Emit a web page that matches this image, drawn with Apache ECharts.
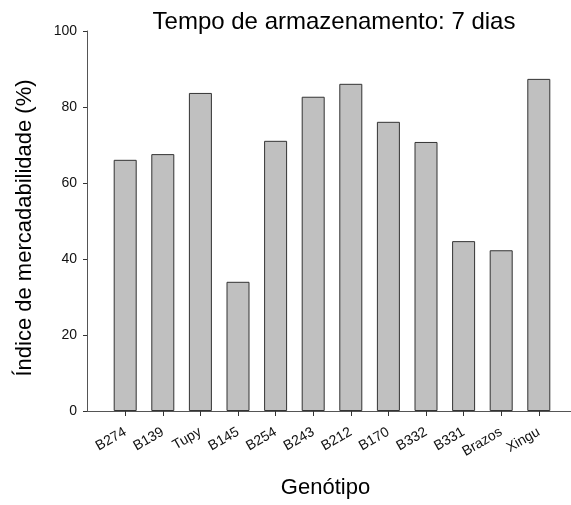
<!DOCTYPE html>
<html>
<head>
<meta charset="utf-8">
<script src="https://cdn.jsdelivr.net/npm/echarts@6/dist/echarts.min.js"></script>
<style>
html,body{margin:0;padding:0;background:#fff;}
#chart{width:571px;height:505px;}
</style>
</head>
<body>
<div id="chart"></div>
<script>
const categories = ['B274','B139','Tupy','B145','B254','B243','B212','B170','B332','B331','Brazos','Xingu'];
const values = [66.1, 67.6, 83.7, 34.0, 71.1, 82.7, 86.1, 76.1, 70.8, 44.7, 42.3, 87.4];
const yTicks = [0, 20, 40, 60, 80, 100];

const FONT = '"Liberation Sans", Arial, sans-serif';
const chart = echarts.init(document.getElementById('chart'), null, {renderer: 'canvas'});
chart.setOption({
  animation: false,
  backgroundColor: '#ffffff',
  title: {
    text: 'Tempo de armazenamento: 7 dias',
    left: 329, top: 5, textAlign: 'center',
    textStyle: {fontFamily: FONT, fontSize: 24, fontWeight: 'normal', color: '#000'}
  },
  grid: [
    {left: 106.4, right: 13.4, top: 31, bottom: 94, containLabel: false},
    {left: 87, right: 0, top: 31, bottom: 94, containLabel: false}
  ],
  xAxis: [
    {
      type: 'category', gridIndex: 0, data: categories, boundaryGap: true,
      axisLine: {show: false},
      axisTick: {show: true, alignWithLabel: true, length: 5, lineStyle: {color: '#333', width: 1}},
      axisLabel: {rotate: 30, margin: 20, fontFamily: FONT, fontSize: 14, color: '#111', interval: 0}
    },
    {
      type: 'value', gridIndex: 1, min: 0, max: 1,
      axisLine: {show: true, lineStyle: {color: '#555', width: 1}},
      axisTick: {show: false}, axisLabel: {show: false}, splitLine: {show: false},
      name: 'Genótipo', nameLocation: 'middle', nameGap: 66,
      nameTextStyle: {fontFamily: FONT, fontSize: 22, color: '#000', padding: [0, 7, 0, 0]}
    }
  ],
  yAxis: [
    {
      type: 'value', gridIndex: 0, min: 0, max: 100, interval: 20,
      show: false, splitLine: {show: false}
    },
    {
      type: 'value', gridIndex: 1, min: 0, max: 100, interval: 20,
      axisLine: {show: true, lineStyle: {color: '#555', width: 1}},
      axisTick: {show: true, inside: false, length: 4, lineStyle: {color: '#333'}},
      axisLabel: {margin: 10, fontFamily: FONT, fontSize: 14, color: '#111',
        formatter: v => yTicks.includes(v) ? String(v) : ''},
      splitLine: {show: false},
      name: 'Índice de mercadabilidade (%)', nameLocation: 'middle', nameGap: 51,
      nameRotate: 90,
      nameTextStyle: {fontFamily: FONT, fontSize: 22, color: '#000', padding: [0, 14, 0, 0]}
    }
  ],
  series: [{
    type: 'bar', xAxisIndex: 0, yAxisIndex: 0,
    data: values, barWidth: 23,
    itemStyle: {color: '#c0c0c0', borderColor: '#333', borderWidth: 1}
  }]
});
</script>
</body>
</html>
